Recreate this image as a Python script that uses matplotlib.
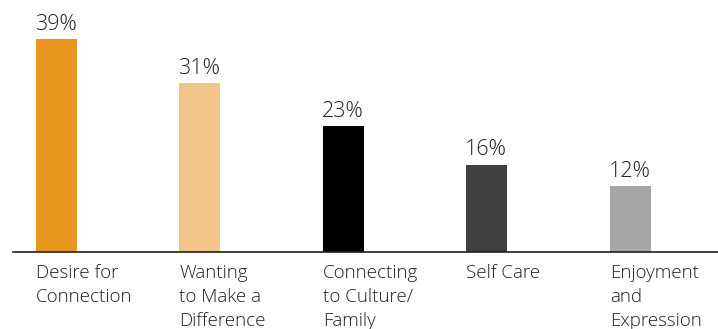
import matplotlib
matplotlib.use("Agg")
import matplotlib.pyplot as plt

categories = ["Desire for\nConnection", "Wanting\nto Make a\nDifference",
              "Connecting\nto Culture/\nFamily", "Self Care", "Enjoyment\nand\nExpression"]
values = [39, 31, 23, 16, 12]
colors = ["#E9971E", "#F4C589", "#000000", "#404040", "#A6A6A6"]

plt.rcParams["font.family"] = ["Open Sans", "DejaVu Sans"]
text_color = "#231F20"

fig = plt.figure(figsize=(7.18, 3.29), dpi=100)
ax = fig.add_axes([13 / 718, 77 / 329, 705 / 718, 252 / 329])

x = list(range(len(values)))
ax.bar(x, values, width=0.2857, align="edge", color=colors)
ax.set_xlim(-0.16, 4.753)
ax.set_ylim(0, 46.15)

for i, v in enumerate(values):
    ax.annotate(f"{v}%", (i, v), xytext=(-1, 3), textcoords="offset points",
                ha="left", va="bottom", fontsize=15.5, fontweight=300,
                color=text_color)
    ax.annotate(categories[i], (i, 0), xytext=(0, -9), textcoords="offset points",
                ha="left", va="top", fontsize=13.5, fontweight=300,
                color=text_color, linespacing=1.42)

for s in ["top", "right", "left"]:
    ax.spines[s].set_visible(False)
ax.spines["bottom"].set_color("#231F20")
ax.spines["bottom"].set_linewidth(1.2)
ax.set_xticks([])
ax.set_yticks([])

fig.savefig("out.png", dpi=100)
